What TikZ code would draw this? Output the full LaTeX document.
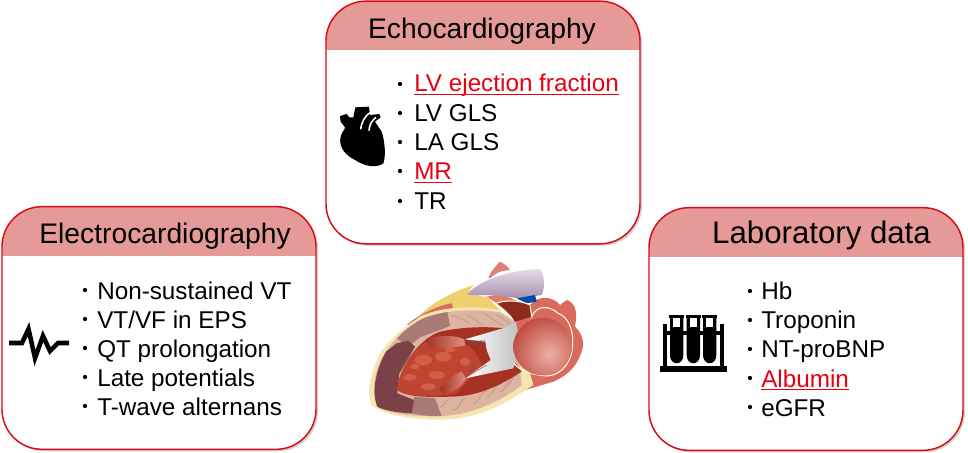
\documentclass[tikz,border=0pt]{standalone}
\usepackage{fontspec}
\setmainfont{Liberation Sans}
\usetikzlibrary{shadows}
\definecolor{hdr}{HTML}{E59A97}
\definecolor{rimred}{HTML}{DC0A14}
\definecolor{hotred}{HTML}{E60012}
\definecolor{hbody}{HTML}{D96A60}
\definecolor{hfat}{HTML}{F0CF6E}
\definecolor{hrim}{HTML}{F5E6B0}
\definecolor{hwall}{HTML}{DDB4A0}
\definecolor{hmid}{HTML}{A97B74}
\definecolor{hdark}{HTML}{7A4148}
\definecolor{hcav}{HTML}{A63022}
\definecolor{htrab}{HTML}{BF4530}
\definecolor{htrabl}{HTML}{CF5F48}
\definecolor{hpur}{HTML}{C9B8CC}
\definecolor{hpurd}{HTML}{A890AE}
\definecolor{hballin}{HTML}{EBB0A6}
\definecolor{hballout}{HTML}{BC4438}
\newcommand\ulred[1]{\setbox0\hbox{#1}\rlap{\rule[-2.4pt]{\wd0}{1pt}}\box0}
\tikzset{
 panel/.style={draw=rimred,line width=1.1pt,fill=white,rounded corners=30pt,
   minimum width=235.5pt,minimum height=182pt,inner sep=0pt,
   drop shadow={shadow xshift=1.5pt,shadow yshift=-1.5pt,opacity=.18,fill=black},
   path picture={\fill[hdr,sharp corners] ([yshift=-37pt]path picture bounding box.north west) rectangle (path picture bounding box.north east);}},
 title/.style={anchor=base,font=\fontsize{21.2pt}{24pt}\selectfont,text=black,inner sep=0pt},
 item/.style={anchor=base west,font=\fontsize{18.2pt}{20pt}\selectfont,text=black,inner sep=0pt},
 hit/.style={item,text=hotred},
 dotmark/.style={circle,fill=black,inner sep=0pt,minimum size=3.2pt},
 ico/.style={fill=black,draw=none},
}
\begin{document}
\begin{tikzpicture}[x=0.75pt,y=-0.75pt]
\useasboundingbox (0,0) rectangle (968,453);
% panels
\node[panel] (echo) at (483,122.5) {};
\node[panel] (ecg) at (159,328) {};
\node[panel] (lab) at (806,329) {};
% titles
\node[title] (t1) at (482,39) {Echocardiography};
\node[title] (t2) at (165,243) {Electrocardiography};
\node[title,font=\fontsize{23.4pt}{26pt}\selectfont] (t3) at (821.5,243) {Laboratory data};
% echo list
\foreach \n/\y in {a/84,b/113,c/142,d/171,e/201}{\node[dotmark] (d\n) at (400,\y) {};}
\node[hit] (e1) at (414,92) {\ulred{LV ejection fraction}};
\node[item] (e2) at (414,121.5) {LV GLS};
\node[item] (e3) at (414,150.5) {LA GLS};
\node[hit] (e4) at (414,180) {\ulred{MR}};
\node[item] (e5) at (414,209) {TR};
% ecg list
\foreach \n/\y in {f/290,g/319,h/348,i/377,j/406}{\node[dotmark] (d\n) at (85,\y) {};}
\node[item] (g1) at (97,299) {Non-sustained VT};
\node[item] (g2) at (97,328) {VT/VF in EPS};
\node[item] (g3) at (97,357) {QT prolongation};
\node[item] (g4) at (97,386) {Late potentials};
\node[item] (g5) at (97,415) {T-wave alternans};
% lab list
\foreach \n/\y in {k/291,l/320,m/349,n/378,o/407}{\node[dotmark] (d\n) at (750,\y) {};}
\node[item] (l1) at (761,299) {Hb};
\node[item] (l2) at (761,328) {Troponin};
\node[item] (l3) at (761,357) {NT-proBNP};
\node[hit] (l4) at (761,387) {\ulred{Albumin}};
\node[item] (l5) at (761,416) {eGFR};
% ECG icon
\draw[line width=3.4pt,miter limit=12,line join=miter] (9,343) -- (22,343) -- (28.5,329) -- (35,358) -- (43,336) -- (50,351) -- (58,343) -- (69,343);
% heart icon
\begin{scope}[shift={(320,0)},x=0.25pt,y=-0.25pt]
\fill[ico] (60,348) -- (80,342) -- (88,352) -- (100,352) -- (106,322) -- (147,320) -- (150,345) -- (178,342) -- (182,352) -- (165,365) -- (185,395) .. controls (195,425) and (198,470) .. (190,490) .. controls (170,505) and (135,500) .. (105,480) .. controls (75,465) and (55,440) .. (62,410) .. controls (65,395) and (75,390) .. (75,382) -- (62,365) -- cycle;
\draw[white,line width=1.2pt] (122,388) .. controls (125,365) and (135,348) .. (150,338);
\draw[white,line width=1.2pt] (147,392) .. controls (148,375) and (155,362) .. (168,352);
\end{scope}
% test tubes icon
\begin{scope}[shift={(645,205)},x=0.25pt,y=-0.25pt]
\fill[ico] (45,483) rectangle (245,500);
\fill[ico] (55,358) rectangle (67,490);
\fill[ico] (226,358) rectangle (238,490);
\fill[ico] (55,378) rectangle (238,390);
\foreach \xx in {95,145,194}{
 \fill[ico] (\xx-23,330) rectangle (\xx+23,338);
 \fill[ico] (\xx-20,338) -- (\xx+20,338) -- (\xx+20,450) .. controls (\xx+20,483) and (\xx-20,483) .. (\xx-20,450) -- cycle;
 \fill[white] (\xx-11,338) rectangle (\xx+11,366);
}
\end{scope}
% heart illustration (coordinates of the 3x crop)
\begin{scope}[shift={(340,250)},x=0.25pt,y=-0.25pt]
% right/back body
\fill[hbody] (540,425) -- (640,395) .. controls (695,370) and (715,340) .. (728,295) .. controls (732,265) and (722,245) .. (705,230) .. controls (712,190) and (710,160) .. (680,150) -- (660,165) .. controls (640,140) and (600,135) .. (575,160) -- (520,200) -- cycle;
% purple vessel
\shade[top color=hpur!50!white,bottom color=hpurd,draw=none] (380,135) .. controls (410,95) and (500,60) .. (600,57) .. controls (615,75) and (615,115) .. (605,135) -- (540,145) -- (440,135) .. controls (420,135) and (400,140) .. (380,135) -- cycle;
\fill[hbody!85!white] (445,82) .. controls (455,60) and (470,45) .. (480,35) .. controls (490,40) and (505,50) .. (510,60) .. controls (480,62) and (465,70) .. (450,85) -- cycle;
\fill[blue!55!cyan!65!black] (530,145) -- (585,135) -- (590,155) -- (560,160) -- cycle;
% yellow fat
\fill[hfat] (240,195) .. controls (280,155) and (340,125) .. (400,105) -- (380,135) -- (440,140) -- (490,190) -- (330,175) -- cycle;
\fill[hbody] (200,225) .. controls (240,190) and (300,165) .. (335,160) -- (340,178) -- (215,225) -- cycle;
\fill[hbody!70!hwall] (440,140) .. controls (470,132) and (510,140) .. (535,155) -- (470,160) -- cycle;
% outer rim
\fill[hrim] (120,310) .. controls (90,370) and (80,430) .. (95,465) .. controls (130,500) and (260,515) .. (340,507) .. controls (430,497) and (500,460) .. (580,405) -- (525,215) -- (480,180) .. controls (400,165) and (300,170) .. (240,200) .. controls (190,235) and (150,265) .. (120,310) -- cycle;
% myocardial wall
\fill[hwall] (125,325) .. controls (100,375) and (95,430) .. (112,470) .. controls (150,495) and (260,505) .. (340,495) .. controls (410,485) and (490,450) .. (545,405) -- (525,215) -- (480,187) .. controls (400,175) and (320,180) .. (250,205) .. controls (190,240) and (150,280) .. (125,325) -- cycle;
% transition zones
\fill[hmid] (170,265) .. controls (200,235) and (220,220) .. (250,205) .. controls (275,195) and (300,190) .. (322,186) -- (330,228) -- (240,262) -- (205,290) -- cycle;
\fill[hmid] (215,490) .. controls (250,497) and (280,500) .. (305,498) -- (285,445) -- (222,440) -- cycle;
% dark infarct
\fill[hdark] (138,305) .. controls (105,365) and (95,430) .. (112,470) .. controls (135,482) and (175,488) .. (215,490) -- (222,450) -- (172,430) -- (178,370) -- (225,290) -- (205,272) -- (170,280) -- cycle;
% streaks
\foreach \a/\b/\c/\d in {335/195/390/220,380/195/430/225,430/190/490/228,470/195/515/225,400/460/440/425,440/440/480/405,480/425/520/385,340/480/380/445,300/470/330/450,500/405/535/370}{
 \draw[hmid!70!hwall,line width=.4pt] (\a,\b) .. controls (\a+15,\b+5) and (\c-15,\d-8) .. (\c,\d);}
% cavity
\fill[hcav] (172,420) .. controls (175,360) and (230,270) .. (300,245) .. controls (360,232) and (430,228) .. (495,235) -- (520,330) -- (545,365) .. controls (490,400) and (420,440) .. (330,440) .. controls (270,442) and (200,442) .. (172,420) -- cycle;
% trabecular mass
\fill[htrab] (172,420) .. controls (175,360) and (225,280) .. (285,262) .. controls (330,265) and (370,270) .. (400,300) -- (430,350) -- (390,385) -- (350,430) .. controls (290,442) and (200,442) .. (172,420) -- cycle;
\foreach \a/\b/\c/\d in {250/330/26/16,310/320/24/15,375/335/16/12,210/382/20/10,290/375/24/12,265/410/22/10,345/390/16/10,330/300/18/7,225/350/14/8}{
 \fill[htrabl] (\a,\b) ellipse[x radius=\c,y radius=\d];}
% papillary muscles
\shade[left color=hcav,right color=htrabl!70!white] (262,265) .. controls (300,255) and (350,255) .. (372,268) -- (376,285) .. controls (350,295) and (300,295) .. (280,298) .. controls (265,290) and (255,280) .. (262,265) -- cycle;
\shade[left color=hcav,right color=htrabl!70!white] (300,415) .. controls (320,395) and (345,370) .. (365,365) -- (378,385) .. controls (370,405) and (345,425) .. (315,432) .. controls (305,432) and (300,425) .. (300,415) -- cycle;
% leaflets
\shade[left color=white,right color=gray!50!white] (495,233) -- (375,268) -- (436,275) -- (440,300) -- (452,330) -- (376,385) -- (520,355) -- (540,290) -- (528,215) -- cycle;
\foreach \yy in {272,280,288}{\draw[gray!70!black,line width=.3pt] (378,275) -- (436,\yy);}
\foreach \xx/\yy in {405/330,412/340,420/320,430/330,440/345}{\draw[hcav!70!gray,line width=.35pt] (378,382) -- (\xx,\yy);}
% aortic cut
\fill[hcav!85!black] (470,160) .. controls (490,150) and (540,150) .. (570,165) -- (575,200) -- (525,215) .. controls (510,190) and (490,175) .. (470,160) -- cycle;
\fill[hbody] (575,205) .. controls (590,165) and (625,165) .. (655,190) -- (600,210) -- cycle;
\draw[white!85!yellow,line width=.8pt] (470,160) .. controls (490,150) and (540,150) .. (570,165) -- (575,200) .. controls (590,165) and (625,165) .. (655,190) .. controls (680,200) and (700,230) .. (698,280) .. controls (698,330) and (670,375) .. (620,378) .. controls (580,375) and (540,365) .. (522,340);
% valve ball
\begin{scope}
\clip (608,290) ellipse[x radius=88,y radius=86];
\shade[inner color=hballin,outer color=hballout,shading=radial] (628,312) circle[radius=125];
\end{scope}
\end{scope}
\end{tikzpicture}
\end{document}
